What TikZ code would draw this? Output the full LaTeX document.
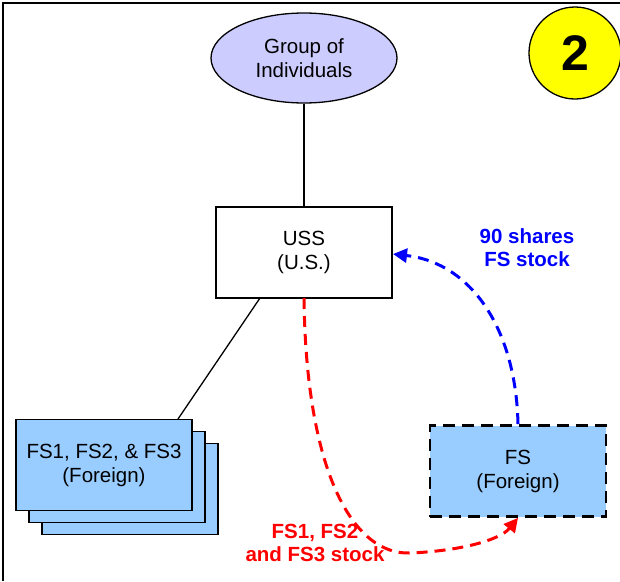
\documentclass[tikz,border=0pt]{standalone}
\usepackage{fontspec}
\setmainfont{Liberation Sans}
\usetikzlibrary{shapes.geometric,arrows.meta}
\definecolor{lav}{HTML}{CCCCFF}
\definecolor{lblue}{HTML}{99CCFF}
\definecolor{myblue}{HTML}{0000FF}
\definecolor{myred}{HTML}{FF0000}
\definecolor{myyellow}{HTML}{FFFF00}
\tikzset{
  txt/.style={font=\fontsize{20.5}{24}\selectfont, align=center},
  boxw/.style={draw=black, line width=1.3pt, minimum width=176pt, minimum height=91pt, inner sep=0pt, txt},
  stackbox/.style={boxw, fill=lblue},
  dashbox/.style={boxw, fill=lblue, line width=2.8pt, dash pattern=on 12pt off 7pt},
  flow/.style={line width=3pt, dash pattern=on 11pt off 7pt, -{Triangle[length=14pt,width=14pt]}},
  lbl/.style={font=\fontsize{20.5}{23}\selectfont\bfseries, align=center},
  conn/.style={line width=1.3pt}
}
\begin{document}
\begin{tikzpicture}[x=1pt,y=-1pt]
\useasboundingbox (0,0) rectangle (620,581);
% frame
\draw[line width=2.2pt] (3,581) -- (3,3) -- (620,3);
% number circle
\node[circle, draw=black, line width=1.3pt, fill=myyellow, minimum size=92pt, inner sep=0pt,
      font=\fontsize{50}{50}\selectfont\bfseries] (num) at (575,53) {2};
% top ellipse
\node[ellipse, draw=black, line width=1.3pt, fill=lav, minimum width=186pt, minimum height=90pt, inner sep=0pt, txt]
  (grp) at (304,58) {Group of\\Individuals};
% USS
\node[boxw, fill=white] (uss) at (304,252.5) {USS\\(U.S.)};
% stack of FS1..3
\node[stackbox] (st3) at (130,489) {};
\node[stackbox] (st2) at (117,477) {};
\node[stackbox] (st1) at (104,465) {FS1, FS2, \& FS3\\(Foreign)};
% FS
\node[dashbox] (fs) at (518,471) {FS\\(Foreign)};
% connectors
\draw[conn] (grp.south) -- (uss.north);
\coordinate (ussb) at (260,298);
\coordinate (stt) at (178,419);
\draw[conn] (ussb) -- (stt);
% blue arrow
\coordinate (bend) at (393,254);
\draw[flow, draw=myblue] (fs.north) .. controls (516,330) and (472,263) .. (bend);
\node[lbl, text=myblue] (blbl) at (527,248) {90 shares\\FS stock};
% red arrow
\coordinate (rtop) at (304,298);
\coordinate (rmid) at (410,553);
\draw[flow, draw=myred] (rtop) .. controls (306,470) and (352,555) .. (rmid)
   .. controls (460,551) and (500,540) .. (fs.south);
\node[lbl, text=myred] (rlbl) at (315,543) {FS1, FS2\\and FS3 stock};
\end{tikzpicture}
\end{document}
